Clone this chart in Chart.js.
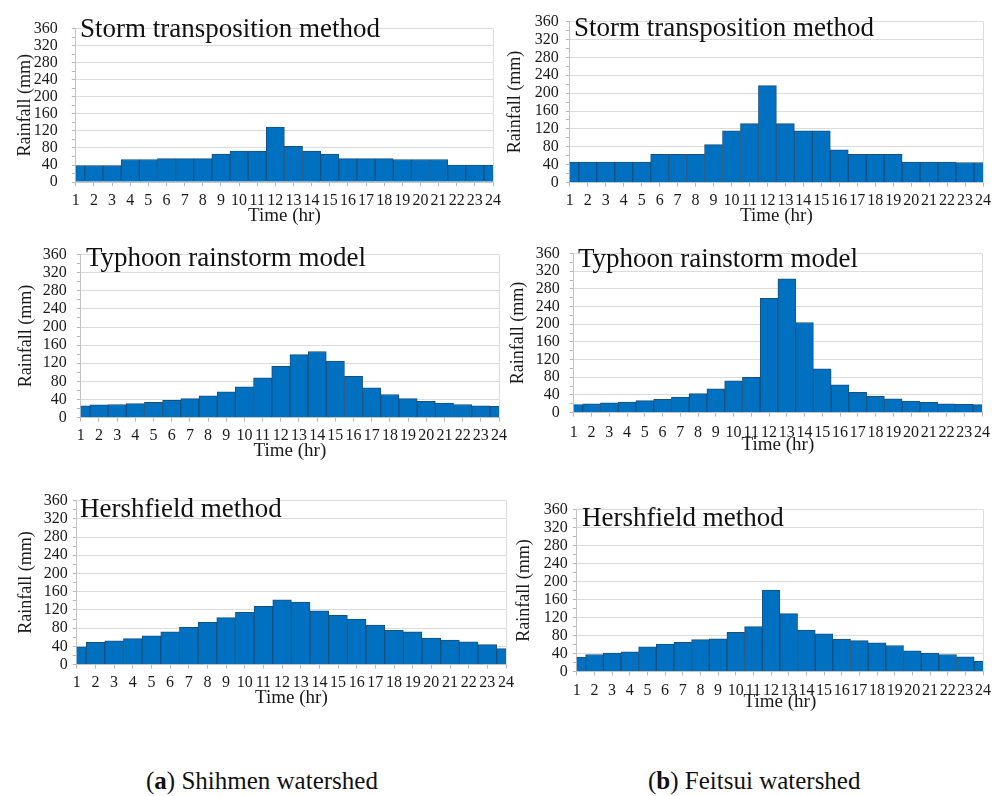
<!DOCTYPE html>
<html>
<head>
<meta charset="utf-8">
<script src="https://cdn.jsdelivr.net/npm/chart.js@4.4.1/dist/chart.umd.min.js"></script>
<style>
  html, body { margin: 0; padding: 0; background: #ffffff; }
  body { width: 1001px; height: 796px; position: relative; overflow: hidden; }
  canvas.panel { position: absolute; }
  .ttl {
    position: absolute;
    font-family: "Liberation Serif", "Times New Roman", serif;
    font-size: 27px; line-height: 27px;
    white-space: nowrap; color: #111;
  }
  .cap {
    position: absolute;
    font-family: "Liberation Serif", "Times New Roman", serif;
    font-size: 25px; line-height: 25px;
    white-space: nowrap; color: #111;
  }
</style>
</head>
<body>
<script>
// Hour labels on the x axis and value labels on the y axis
const hours = ['1','2','3','4','5','6','7','8','9','10','11','12','13','14','15','16','17','18','19','20','21','22','23','24'];
const yTickValues = [0, 40, 80, 120, 160, 200, 240, 280, 320, 360];

// Hourly design rainfall (mm), Shihmen watershed
const shihmenStorm    = [39, 39, 39, 53, 53, 55, 55, 55, 66, 73, 73, 129, 84, 73, 66, 55, 55, 55, 53, 53, 53, 40, 40, 40];
const shihmenTyphoon  = [26, 28, 29, 31, 34, 38, 42, 48, 57, 68, 88, 113, 139, 146, 125, 91, 66, 51, 42, 36, 32, 29, 26, 25];
const shihmenHersh    = [39, 49, 52, 57, 63, 72, 82, 93, 103, 115, 128, 142, 137, 118, 108, 100, 87, 75, 72, 58, 54, 50, 44, 35];

// Hourly design rainfall (mm), Feitsui watershed
const feitsuiStorm    = [46, 46, 46, 46, 46, 63, 63, 63, 85, 116, 132, 217, 132, 116, 116, 73, 63, 63, 63, 46, 46, 46, 45, 45];
const feitsuiTyphoon  = [18, 20, 22, 24, 27, 30, 35, 43, 54, 72, 80, 259, 303, 204, 99, 63, 46, 37, 31, 26, 23, 20, 19, 18];
const feitsuiHersh    = [32, 38, 41, 44, 55, 61, 65, 71, 73, 87, 100, 181, 129, 92, 84, 72, 69, 64, 58, 46, 41, 38, 33, 23];

const SERIF = '"Liberation Serif", "Times New Roman", serif';
const BAR_FILL = '#0070c0';
const BAR_EDGE = '#17507f';
const GRID = '#dcdcdc';
const TICK = '#b8b8b8';
const AXIS = '#c4c4c4';
const TEXT = '#1a1a1a';

// Plot-area box of each panel on the page (L/R/T/B), plus where its titles sit
const panels = [
  { data: shihmenStorm,   title: 'Storm transposition method', L: 76,  R: 493, T: 19,  B: 182, yTitleX: 25,  timeY: 215.5, yPad: 14, xPad: 5, tx: 80,  tBase: 37.3 },
  { data: feitsuiStorm,   title: 'Storm transposition method', L: 570, R: 983, T: 19,  B: 183, yTitleX: 515, timeY: 216,   yPad: 7,  xPad: 5, tx: 574, tBase: 37 },
  { data: shihmenTyphoon, title: 'Typhoon rainstorm model',    L: 81,  R: 499, T: 249, B: 418, yTitleX: 26,  timeY: 451,   yPad: 10, xPad: 5, tx: 86,  tBase: 267 },
  { data: feitsuiTyphoon, title: 'Typhoon rainstorm model',    L: 574, R: 983, T: 248, B: 413, yTitleX: 518, timeY: 445,   yPad: 10, xPad: 7, tx: 578, tBase: 268 },
  { data: shihmenHersh,   title: 'Hershfield method',          L: 77,  R: 506, T: 500, B: 665, yTitleX: 26,  timeY: 698,   yPad: 5,  xPad: 5, tx: 80,  tBase: 517.3 },
  { data: feitsuiHersh,   title: 'Hershfield method',          L: 577, R: 983, T: 509, B: 672, yTitleX: 524, timeY: 702,   yPad: 5,  xPad: 6, tx: 582, tBase: 526.7 }
];

const Y_TITLE_SIZE = 18;
const X_TITLE_SIZE = 19;
const TICK_SIZE = 16;
const PAD_TOP = 14;
const PAD_RIGHT = 14;

function buildPanel(p) {
  const yAxisWidth = p.L - (p.yTitleX - Y_TITLE_SIZE * 1.2 / 2);
  const xAxisHeight = p.timeY - p.B + X_TITLE_SIZE * 1.2 / 2;
  const left = p.L - yAxisWidth;
  const top = p.T - PAD_TOP;
  const width = Math.round(p.R - p.L + yAxisWidth + PAD_RIGHT);
  const height = Math.round(p.B - p.T + PAD_TOP + xAxisHeight);

  const cv = document.createElement('canvas');
  cv.className = 'panel';
  cv.width = width;
  cv.height = height;
  cv.style.left = left + 'px';
  cv.style.top = top + 'px';
  cv.style.width = width + 'px';
  cv.style.height = height + 'px';
  document.body.appendChild(cv);

  new Chart(cv, {
    type: 'bar',
    data: {
      labels: hours,
      datasets: [{
        data: p.data,
        backgroundColor: BAR_FILL,
        borderColor: BAR_EDGE,
        borderWidth: 1,
        barPercentage: 1,
        categoryPercentage: 1,
        clip: 0
      }]
    },
    options: {
      responsive: false,
      animation: false,
      devicePixelRatio: 1,
      layout: { padding: { left: 0, top: PAD_TOP, right: PAD_RIGHT, bottom: 0 } },
      plugins: { legend: { display: false }, tooltip: { enabled: false } },
      scales: {
        x: {
          type: 'category',
          offset: false,
          grid: {
            offset: false,
            drawOnChartArea: true,
            color: c => (c.index === hours.length - 1 ? GRID : 'rgba(0,0,0,0)'),
            tickColor: TICK,
            tickLength: 4
          },
          border: { color: AXIS },
          ticks: {
            autoSkip: false, maxRotation: 0, minRotation: 0,
            padding: p.xPad, color: TEXT,
            font: { family: SERIF, size: TICK_SIZE }
          },
          title: {
            display: true, text: 'Time (hr)', color: TEXT, padding: 0,
            font: { family: SERIF, size: X_TITLE_SIZE }
          },
          afterFit: s => { s.height = xAxisHeight; }
        },
        y: {
          min: 0, max: 360,
          ticks: {
            stepSize: 20,
            autoSkip: false,
            callback: v => (yTickValues.includes(v) ? String(v) : ''),
            padding: p.yPad, color: TEXT,
            font: { family: SERIF, size: TICK_SIZE }
          },
          grid: {
            color: c => (c.tick && yTickValues.includes(c.tick.value) ? GRID : 'rgba(0,0,0,0)'),
            tickColor: TICK,
            tickLength: 4
          },
          border: { color: AXIS },
          title: {
            display: true, text: 'Rainfall (mm)', color: TEXT, padding: 0,
            font: { family: SERIF, size: Y_TITLE_SIZE }
          },
          afterFit: s => { s.width = yAxisWidth; }
        }
      }
    }
  });

  // method name printed inside the plot, upper left
  const t = document.createElement('div');
  t.className = 'ttl';
  t.textContent = p.title;
  t.style.left = p.tx + 'px';
  t.style.top = (p.tBase - 22.6) + 'px';
  document.body.appendChild(t);
}

panels.forEach(buildPanel);

// column captions
const captions = [
  { letter: 'a', text: ' Shihmen watershed', x: 146 },
  { letter: 'b', text: ' Feitsui watershed', x: 648 }
];
captions.forEach(c => {
  const d = document.createElement('div');
  d.className = 'cap';
  d.style.left = c.x + 'px';
  d.style.top = '768px';
  d.appendChild(document.createTextNode('('));
  const b = document.createElement('b');
  b.textContent = c.letter;
  d.appendChild(b);
  d.appendChild(document.createTextNode(')' + c.text));
  document.body.appendChild(d);
});
</script>
</body>
</html>
